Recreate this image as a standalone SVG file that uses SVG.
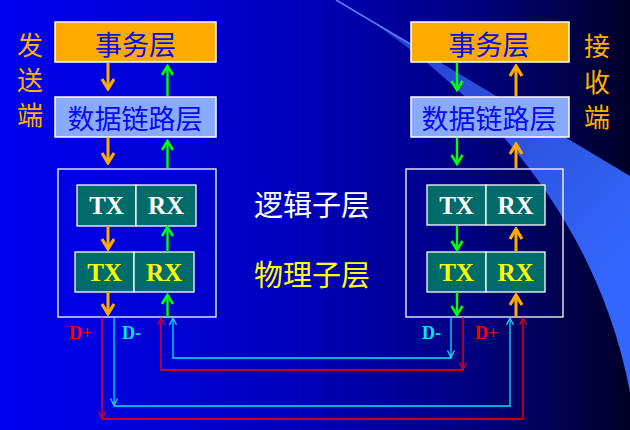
<svg xmlns="http://www.w3.org/2000/svg" width="630" height="430" viewBox="0 0 630 430">
<defs>
<linearGradient id="bg" x1="0" y1="0" x2="1" y2="0">
<stop offset="0" stop-color="#0000F0"/>
<stop offset="0.45" stop-color="#0000C0"/>
<stop offset="0.75" stop-color="#000080"/>
<stop offset="1" stop-color="#000028"/>
</linearGradient>
<linearGradient id="band" gradientUnits="userSpaceOnUse" x1="337" y1="0" x2="630" y2="260">
<stop offset="0" stop-color="#4070FF" stop-opacity="0.5"/>
<stop offset="0.4" stop-color="#3560F0" stop-opacity="0.8"/>
<stop offset="1" stop-color="#3366FF"/>
</linearGradient>
<marker id="mo" viewBox="-13 -8 15 16" refX="0" refY="0" markerWidth="15" markerHeight="16" orient="auto" markerUnits="userSpaceOnUse">
<path d="M-10,-6 L0,0 L-10,6" fill="none" stroke="#FFAA00" stroke-width="3.2"/>
</marker>
<marker id="mg" viewBox="-13 -8 15 16" refX="0" refY="0" markerWidth="15" markerHeight="16" orient="auto" markerUnits="userSpaceOnUse">
<path d="M-9,-5.5 L0,0 L-9,5.5" fill="none" stroke="#00FF00" stroke-width="2.6"/>
</marker>
<marker id="mr" viewBox="-9 -5 10 10" refX="0" refY="0" markerWidth="10" markerHeight="10" orient="auto" markerUnits="userSpaceOnUse">
<path d="M-7,-3.5 L0,0 L-7,3.5" fill="none" stroke="#D00020" stroke-width="1.3"/>
</marker>
<marker id="mc" viewBox="-9 -5 10 10" refX="0" refY="0" markerWidth="10" markerHeight="10" orient="auto" markerUnits="userSpaceOnUse">
<path d="M-7,-3.5 L0,0 L-7,3.5" fill="none" stroke="#30D0F0" stroke-width="1.3"/>
</marker>
</defs>
<style>
.cjk{font-family:"Noto Sans CJK SC","Noto Sans CJK JP",sans-serif;}
.side{font-size:26px;fill:#FFB000;text-anchor:middle;}
.lay{font-size:27px;fill:#0A0AF0;text-anchor:middle;}
.sub{font-size:29px;text-anchor:middle;}
.ser{font-family:"Liberation Serif","Times New Roman",serif;font-weight:bold;}
.cell{font-size:25px;text-anchor:middle;}
.lbl{font-size:18px;}
.box{stroke:#FFFFFF;stroke-width:1.5;}
.app{fill:#FFAA00;}
.dll{fill:#88AAFF;}
.frame{fill:none;stroke:#FFFFFF;stroke-width:1.3;}
.tc{fill:#006B6B;stroke:#FFFFFF;stroke-width:1.3;}
.ao{stroke:#FFAA00;stroke-width:3;fill:none;marker-end:url(#mo);}
.ag{stroke:#00FF00;stroke-width:2.4;fill:none;marker-end:url(#mg);}
.lr{stroke:#FF0000;stroke-width:1.3;fill:none;}
.lc{stroke:#00E8FF;stroke-width:1.3;fill:none;}
</style>
<rect x="0" y="0" width="630" height="430" fill="url(#bg)"/>
<path d="M336,0 L630,176 L630,392 C590,180 430,55 338,0 Z" fill="url(#band)"/>
<path d="M336,0 L412,45" stroke="#5080FF" stroke-width="1.5" fill="none"/>

<g id="send-label" class="cjk side">
<text x="30" y="55">发</text>
<text x="30" y="90">送</text>
<text x="30" y="125">端</text>
</g>
<g id="recv-label" class="cjk side">
<text x="597" y="56">接</text>
<text x="597" y="92">收</text>
<text x="597" y="127">端</text>
</g>

<g id="left-transaction">
<rect class="box app" x="55" y="22" width="161" height="40"/>
<text class="cjk lay" x="135.5" y="55">事务层</text>
</g>
<g id="left-datalink">
<rect class="box dll" x="55" y="97" width="161" height="40"/>
<text class="cjk lay" x="135" y="129">数据链路层</text>
</g>
<g id="left-physical">
<rect class="frame" x="58" y="169" width="158" height="148"/>
<rect class="tc" x="77" y="185" width="59" height="41"/>
<rect class="tc" x="136" y="185" width="60" height="41"/>
<text class="ser cell" x="106.5" y="214" fill="#FFFFFF">TX</text>
<text class="ser cell" x="166" y="214" fill="#FFFFFF">RX</text>
<rect class="tc" x="75" y="252" width="59" height="40"/>
<rect class="tc" x="134" y="252" width="60" height="40"/>
<text class="ser cell" x="104.5" y="281" fill="#FFFF00">TX</text>
<text class="ser cell" x="164" y="281" fill="#FFFF00">RX</text>
</g>

<g id="right-transaction">
<rect class="box app" x="411" y="22" width="158" height="40"/>
<text class="cjk lay" x="489" y="55">事务层</text>
</g>
<g id="right-datalink">
<rect class="box dll" x="411" y="97" width="158" height="40"/>
<text class="cjk lay" x="489" y="129">数据链路层</text>
</g>
<g id="right-physical">
<rect class="frame" x="406" y="169" width="157" height="148"/>
<rect class="tc" x="427" y="185" width="59" height="40"/>
<rect class="tc" x="486" y="185" width="59" height="40"/>
<text class="ser cell" x="456.5" y="214" fill="#FFFFFF">TX</text>
<text class="ser cell" x="515.5" y="214" fill="#FFFFFF">RX</text>
<rect class="tc" x="427" y="252" width="59" height="40"/>
<rect class="tc" x="486" y="252" width="59" height="40"/>
<text class="ser cell" x="456.5" y="281" fill="#FFFF00">TX</text>
<text class="ser cell" x="515.5" y="281" fill="#FFFF00">RX</text>
</g>

<g id="sublayer-labels" class="cjk sub">
<text x="312" y="216" fill="#FFFFFF">逻辑子层</text>
<text x="312" y="286" fill="#FFFF00">物理子层</text>
</g>

<g id="line-labels" class="ser lbl">
<text x="69" y="339" fill="#FF0000">D+</text>
<text x="122" y="339" fill="#00E8FF">D-</text>
<text x="422" y="339" fill="#00E8FF">D-</text>
<text x="475" y="339" fill="#FF0000">D+</text>
</g>

<g id="connectors">
<line class="ao" x1="108" y1="63" x2="108" y2="89"/>
<line class="ao" x1="108" y1="138" x2="108" y2="163"/>
<line class="ao" x1="108" y1="226" x2="108" y2="249"/>
<line class="ao" x1="108" y1="292" x2="108" y2="314"/>
<line class="ag" x1="167.5" y1="96" x2="167.5" y2="66"/>
<line class="ag" x1="167.5" y1="168" x2="167.5" y2="141"/>
<line class="ag" x1="167.5" y1="252" x2="167.5" y2="227"/>
<line class="ag" x1="167.5" y1="317" x2="167.5" y2="295"/>

<line class="ag" x1="457" y1="63" x2="457" y2="90"/>
<line class="ag" x1="457" y1="138" x2="457" y2="164"/>
<line class="ag" x1="457" y1="226" x2="457" y2="250"/>
<line class="ag" x1="457" y1="292" x2="457" y2="315"/>
<line class="ao" x1="516" y1="96" x2="516" y2="66"/>
<line class="ao" x1="516" y1="168" x2="516" y2="144"/>
<line class="ao" x1="516" y1="252" x2="516" y2="229"/>
<line class="ao" x1="516" y1="317" x2="516" y2="295"/>

<path class="lr" d="M102,317 L102,418.5" marker-end="url(#mr)"/>
<path class="lr" d="M102,419 L523,419 L523,318" marker-end="url(#mr)"/>
<path class="lc" d="M114,317 L114,405.5" marker-end="url(#mc)"/>
<path class="lc" d="M114,406 L510,406 L510,318" marker-end="url(#mc)"/>
<path class="lr" d="M463,317 L463,369.5" marker-end="url(#mr)"/>
<path class="lr" d="M463,370 L161,370 L161,318" marker-end="url(#mr)"/>
<path class="lc" d="M451,317 L451,357.5" marker-end="url(#mc)"/>
<path class="lc" d="M451,358 L173,358 L173,318" marker-end="url(#mc)"/>
</g>
</svg>
